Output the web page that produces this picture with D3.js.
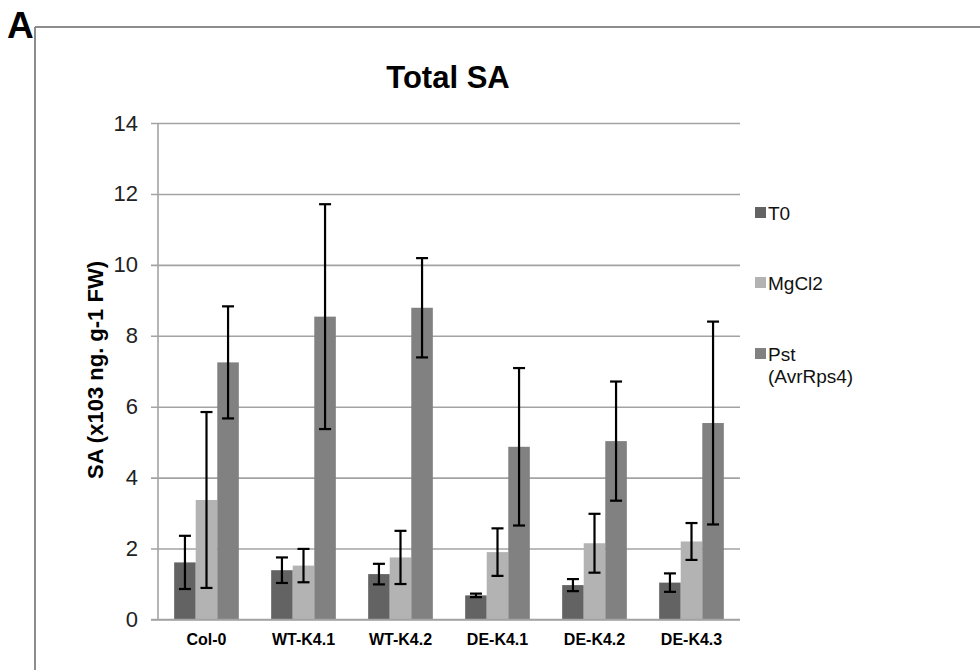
<!DOCTYPE html>
<html>
<head>
<meta charset="utf-8">
<script src="https://cdn.jsdelivr.net/npm/d3@7"></script>
<style>
  body { margin: 0; background: #fff; }
  svg { font-family: "Liberation Sans", Arial, sans-serif; }
</style>
</head>
<body>
<script>
let w = 980;
let h = 670;

var categories = ["Col-0", "WT-K4.1", "WT-K4.2", "DE-K4.1", "DE-K4.2", "DE-K4.3"];
var seriesNames = ["T0", "MgCl2", "Pst"];
var t0 = [1.61, 1.39, 1.28, 0.68, 0.97, 1.04];
var mgcl2 = [3.37, 1.52, 1.75, 1.90, 2.15, 2.20];
var pst = [7.25, 8.54, 8.79, 4.87, 5.03, 5.54];
var t0Err = [0.75, 0.36, 0.29, 0.05, 0.17, 0.26];
var mgcl2Err = [2.48, 0.47, 0.75, 0.67, 0.83, 0.52];
var pstErr = [1.58, 3.17, 1.40, 2.22, 1.68, 2.86];
var yTicks = [0, 2, 4, 6, 8, 10, 12, 14];

var colors = ["#636363", "#b3b3b3", "#818181"];

var svg = d3.select("body").append("svg")
    .attr("width", w)
    .attr("height", h);

// frame lines of the figure panel
svg.append("line").attr("x1", 35).attr("y1", 27).attr("x2", w).attr("y2", 27)
    .attr("stroke", "#8c8c8c").attr("stroke-width", 2);
svg.append("line").attr("x1", 35).attr("y1", 27).attr("x2", 35).attr("y2", h)
    .attr("stroke", "#8c8c8c").attr("stroke-width", 2);
svg.append("text").attr("x", 7).attr("y", 38)
    .attr("font-size", 37).attr("font-weight", "bold").text("A");

var plot = { left: 158, right: 740, top: 123, bottom: 619.5 };

var x0 = d3.scaleBand().domain(categories)
    .range([plot.left, plot.right])
    .paddingInner(1 / 3).paddingOuter(1 / 6);
var x1 = d3.scaleBand().domain(seriesNames).range([0, x0.bandwidth()]);
var y = d3.scaleLinear().domain([0, 14]).range([plot.bottom, plot.top]);

// gridlines + y ticks
var yAxis = d3.axisLeft(y).tickValues(yTicks)
    .tickSize(-(plot.right - plot.left) - 7).tickPadding(14);
var gy = svg.append("g").attr("transform", `translate(${plot.left - 7},0)`).call(yAxis);
gy.select(".domain").remove();
gy.selectAll(".tick line").attr("stroke", "#a3a3a3").attr("stroke-width", 1.6)
    .attr("x1", 0).attr("x2", plot.right - plot.left + 7);
gy.selectAll(".tick text").attr("font-size", 22).attr("fill", "#222")
    .attr("font-family", "Liberation Sans, Arial, sans-serif")
    .attr("x", -13);

svg.append("line").attr("x1", plot.left).attr("x2", plot.left)
    .attr("y1", plot.top).attr("y2", plot.bottom)
    .attr("stroke", "#a3a3a3").attr("stroke-width", 1.6);

var rows = categories.map((c, i) => ({
    cat: c,
    vals: [
        { s: "T0", v: t0[i], e: t0Err[i] },
        { s: "MgCl2", v: mgcl2[i], e: mgcl2Err[i] },
        { s: "Pst", v: pst[i], e: pstErr[i] }
    ]
}));

var groups = svg.selectAll("g.grp").data(rows).enter().append("g")
    .attr("class", "grp")
    .attr("transform", d => `translate(${x0(d.cat)},0)`);

groups.selectAll("rect").data(d => d.vals).enter().append("rect")
    .attr("x", d => x1(d.s))
    .attr("y", d => y(d.v))
    .attr("width", x1.bandwidth())
    .attr("height", d => plot.bottom - y(d.v))
    .attr("fill", (d, i) => colors[i]);

// error bars
var eb = groups.selectAll("g.err").data(d => d.vals).enter().append("g").attr("class", "err")
    .attr("stroke", "#000").attr("stroke-width", 2.2);
var cx = d => x1(d.s) + x1.bandwidth() / 2;
eb.append("line").attr("x1", cx).attr("x2", cx)
    .attr("y1", d => y(d.v + d.e)).attr("y2", d => y(d.v - d.e));
eb.append("line").attr("x1", d => cx(d) - 6).attr("x2", d => cx(d) + 6)
    .attr("y1", d => y(d.v + d.e)).attr("y2", d => y(d.v + d.e));
eb.append("line").attr("x1", d => cx(d) - 6).attr("x2", d => cx(d) + 6)
    .attr("y1", d => y(d.v - d.e)).attr("y2", d => y(d.v - d.e));

// x axis baseline
svg.append("line").attr("x1", plot.left - 7).attr("x2", plot.right)
    .attr("y1", plot.bottom).attr("y2", plot.bottom)
    .attr("stroke", "#a3a3a3").attr("stroke-width", 1.6);

var xAxis = d3.axisBottom(x0).tickSize(0).tickPadding(14);
var gx = svg.append("g").attr("transform", `translate(0,${plot.bottom})`).call(xAxis);
gx.select(".domain").remove();
gx.selectAll(".tick text").attr("font-size", 16).attr("font-weight", "bold")
    .attr("fill", "#000").attr("font-family", "Liberation Sans, Arial, sans-serif");

// title
svg.append("text").attr("x", 448).attr("y", 88).attr("text-anchor", "middle")
    .attr("font-size", 31).attr("font-weight", "bold").text("Total SA");

// y label
svg.append("text").attr("transform", "translate(103,370) rotate(-90)")
    .attr("text-anchor", "middle").attr("font-size", 22).attr("font-weight", "bold")
    .text("SA (x103 ng. g-1 FW)");

// legend
var legY = [213, 283, 354];
var leg = svg.selectAll("g.leg").data(seriesNames).enter().append("g").attr("class", "leg")
    .attr("transform", (d, i) => `translate(755,${legY[i]})`);
leg.append("rect").attr("x", 0).attr("y", -6).attr("width", 11).attr("height", 11)
    .attr("fill", (d, i) => colors[i]);
leg.append("text").attr("x", 13).attr("y", 7).attr("font-size", 19).attr("fill", "#111")
    .text(d => d);
svg.append("text").attr("x", 768).attr("y", 383).attr("font-size", 19).attr("fill", "#111")
    .text("(AvrRps4)");
</script>
</body>
</html>
